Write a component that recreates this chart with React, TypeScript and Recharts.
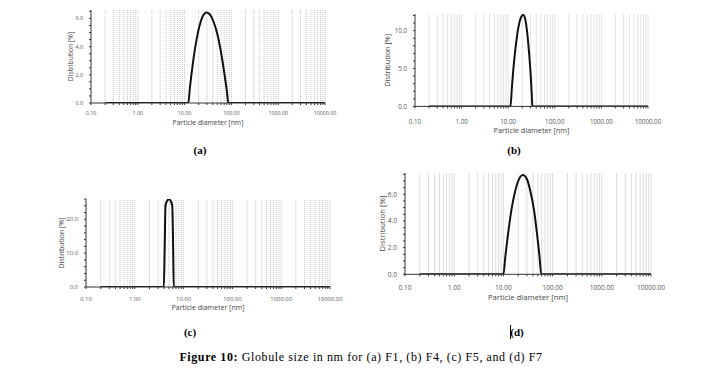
import React from 'react';
import { LineChart, Line, XAxis, YAxis, ReferenceLine } from 'recharts';

// particle diameter [nm] / distribution [%]
const SIZES_A = [0.2, 1, 5, 12, 13, 15, 18, 22, 26, 30, 35, 42, 50, 60, 70, 80, 86, 200, 1000, 10000];
const DIST_A = [0, 0, 0, 0, 1.1, 2.8, 4.5, 5.75, 6.3, 6.43, 6.27, 5.73, 4.9, 3.6, 2.2, 0.85, 0, 0, 0, 0];

const SIZES_B = [0.2, 1, 5, 11.2, 12, 13.5, 15, 17, 19, 21, 23, 25.5, 28, 30.5, 32, 33, 100, 1000, 10000];
const DIST_B = [0, 0, 0, 0, 2.5, 6.2, 8.7, 10.8, 11.8, 12.1, 11.6, 9.8, 7.1, 4.0, 1.7, 0, 0, 0, 0];

const SIZES_C = [0.2, 1, 3.93, 4.1, 4.26, 4.6, 5.0, 5.4, 5.85, 6.1, 6.3, 100, 1000, 10000];
const DIST_C = [0, 0, 0, 12, 24, 25.5, 25.9, 25.5, 24, 12, 0, 0, 0, 0];

const SIZES_D = [0.2, 1, 5, 10, 11, 12.5, 14.5, 17, 20, 25, 30, 36, 42, 48, 54, 59, 200, 1000, 10000];
const DIST_D = [0, 0, 0, 0, 1.4, 3.1, 4.8, 6.1, 7.0, 7.45, 7.15, 6.1, 4.8, 3.1, 1.4, 0, 0, 0, 0];

const X_MAJOR = [0.1, 1, 10, 100, 1000, 10000];
const X_MINOR_STEPS = [2, 3, 4, 5, 6, 7, 8, 9];

const xMinor = X_MAJOR.slice(0, 4).flatMap((m) => X_MINOR_STEPS.map((s) => +(m * s).toPrecision(3)))
  .concat(X_MINOR_STEPS.map((s) => 1000 * s));
const xGrid = [...xMinor, ...X_MAJOR.slice(1)];
const xTicks = [...X_MAJOR, ...xMinor].sort((a, b) => a - b);

const toRows = (sizes: number[], dist: number[]) => sizes.map((d, i) => ({ d, v: dist[i] }));

interface PanelProps {
  sizes: number[];
  dist: number[];
  x0: number;
  x1: number;
  yTop: number;
  yBot: number;
  yMax: number;
  yMajor: number;
  yMinor: number;
  tickFont: number;
  titleFont: number;
  tickCenter: number;
  titleCenter: number;
  yTitleX: number;
  dotted: boolean;
}

const Panel: React.FC<PanelProps> = (p) => {
  const left = p.x0 - 45;
  const top = p.yTop - 6;
  const width = p.x1 - p.x0 + 70;
  const height = p.yBot - p.yTop + 34;
  const yTicks: number[] = [];
  for (let i = 0; i * p.yMinor <= p.yMax + 1e-6; i++) yTicks.push(+(i * p.yMinor).toFixed(2));
  const isMajorY = (v: number) => Math.abs(v / p.yMajor - Math.round(v / p.yMajor)) < 1e-6;
  const xTickMargin = p.tickCenter - p.yBot - 2 - 0.35 * p.tickFont;
  const xTitleOffset = p.yBot + 28 - (p.titleCenter + 0.35 * p.titleFont);
  const font = "'Open Sans', sans-serif";

  return (
    <div style={{ position: 'absolute', left, top, width, height }}>
      <LineChart width={width} height={height} data={toRows(p.sizes, p.dist)}
        margin={{ top: 6, right: 25, left: 0, bottom: 0 }}>
        {xGrid.map((g) => (
          <ReferenceLine key={g} x={g} stroke={p.dotted ? '#c6c6c6' : '#dcdcdc'}
            strokeDasharray={p.dotted ? '1 1' : undefined} strokeWidth={1} />
        ))}
        <XAxis type="number" dataKey="d" scale="log" domain={[0.1, 10000]} allowDataOverflow
          ticks={xTicks} interval={0} tickSize={2} tickMargin={xTickMargin} height={28}
          tickFormatter={(v: number) => (X_MAJOR.includes(v) ? v.toFixed(2) : '')}
          axisLine={{ stroke: '#333' }} tickLine={{ stroke: '#333' }}
          tick={{ fontSize: p.tickFont, fill: '#555', fontFamily: font }}
          label={{ value: 'Particle diameter [nm]', position: 'insideBottom', offset: xTitleOffset,
            style: { fontSize: p.titleFont, fill: '#444', fontFamily: font } }} />
        <YAxis type="number" domain={[0, p.yMax]} allowDataOverflow ticks={yTicks} interval={0}
          width={45} tickSize={2} tickMargin={6}
          tickFormatter={(v: number) => (isMajorY(v) ? v.toFixed(1) : '')}
          axisLine={{ stroke: '#333' }} tickLine={{ stroke: '#333' }}
          tick={{ fontSize: p.tickFont, fill: '#555', fontFamily: font }}
          label={{ value: 'Distribution [%]', angle: -90, position: 'insideLeft', offset: p.yTitleX - left,
            style: { fontSize: p.titleFont, fill: '#444', fontFamily: font, textAnchor: 'middle' } }} />
        <Line type="monotone" dataKey="v" stroke="#111" strokeWidth={2} dot={false} isAnimationActive={false} />
      </LineChart>
    </div>
  );
};

const serif = "'Liberation Serif', 'Times New Roman', serif";

const Caption: React.FC<{ cx: number; cy: number; text: string }> = ({ cx, cy, text }) => (
  <div style={{ position: 'absolute', left: cx - 20, top: cy - 7, width: 40, height: 14, lineHeight: '14px',
    textAlign: 'center', fontFamily: serif, fontWeight: 'bold', fontSize: 11, color: '#000' }}>{text}</div>
);

export default function App() {
  return (
    <div style={{ position: 'absolute', left: 0, top: 0, width: 722, height: 377, background: '#fff', overflow: 'hidden' }}>
      <Panel sizes={SIZES_A} dist={DIST_A} x0={91} x1={325} yTop={10} yBot={103} yMax={6.6} yMajor={2} yMinor={0.5}
        tickFont={5.3} titleFont={6.8} tickCenter={113} titleCenter={123} yTitleX={71} dotted />
      <Panel sizes={SIZES_B} dist={DIST_B} x0={415} x1={648} yTop={14.3} yBot={106.7} yMax={12.2} yMajor={5} yMinor={1}
        tickFont={6.2} titleFont={7.3} tickCenter={121.7} titleCenter={131} yTitleX={387} dotted />
      <Panel sizes={SIZES_C} dist={DIST_C} x0={86} x1={330} yTop={198.7} yBot={286.7} yMax={26} yMajor={10} yMinor={2}
        tickFont={5.9} titleFont={7} tickCenter={298.3} titleCenter={307.3} yTitleX={62} dotted />
      <Panel sizes={SIZES_D} dist={DIST_D} x0={405} x1={651} yTop={173} yBot={274.3} yMax={7.6} yMajor={2} yMinor={0.5}
        tickFont={6.6} titleFont={7.7} tickCenter={287.7} titleCenter={297.7} yTitleX={382} dotted={false} />
      <Caption cx={200} cy={150} text="(a)" />
      <Caption cx={514} cy={150} text="(b)" />
      <Caption cx={190} cy={332} text="(c)" />
      <Caption cx={517} cy={332} text="(d)" />
      <div style={{ position: 'absolute', left: 510, top: 325, width: 1, height: 14, background: '#000' }} />
      <div style={{ position: 'absolute', left: 0, top: 349, width: 722, height: 16, lineHeight: '16px', textAlign: 'center',
        fontFamily: serif, fontSize: 12, letterSpacing: 0.6, color: '#000' }}>
        <b>Figure 10:</b> Globule size in nm for (a) F1, (b) F4, (c) F5, and (d) F7
      </div>
    </div>
  );
}
